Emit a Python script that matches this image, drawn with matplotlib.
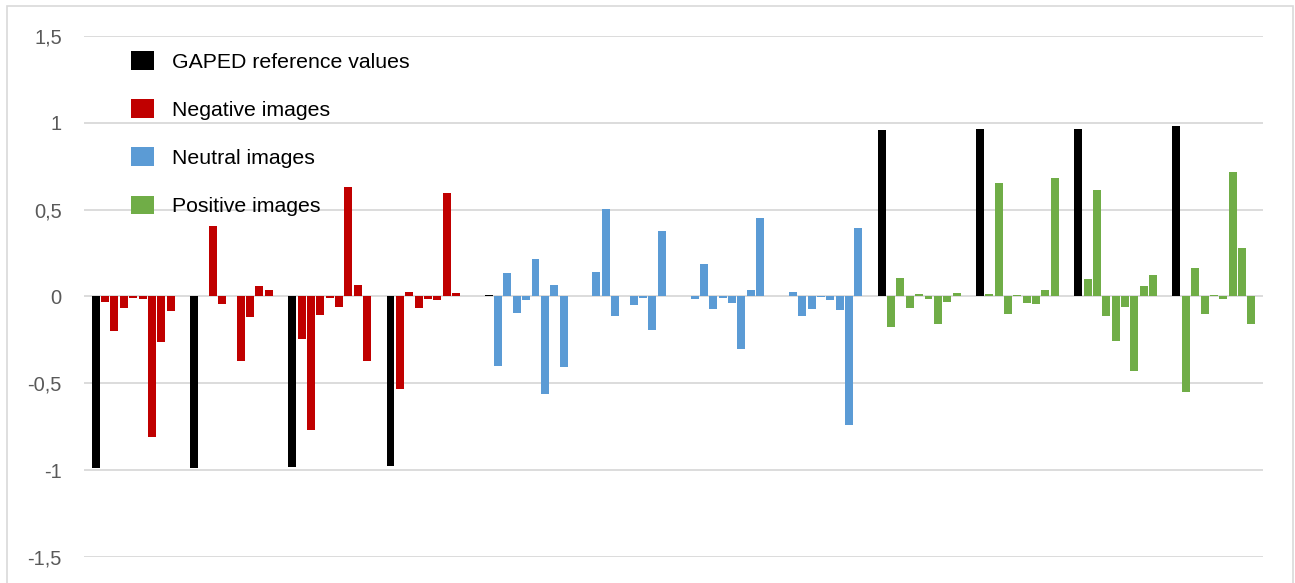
import numpy as np
import matplotlib.pyplot as plt
from matplotlib.patches import Patch, Rectangle

# GAPED reference value for each of the 12 images
gaped_ref = [-0.99, -0.99, -0.984, -0.975,
             0.006, 0.005, 0.005, 0.004,
             0.960, 0.967, 0.967, 0.979]

# 8 measured values per image
negative_vals = [
    [-0.029, -0.196, -0.069, -0.006, -0.012, -0.811, -0.261, -0.081],
    [0.005, 0.406, -0.044, 0.004, -0.369, -0.117, 0.060, 0.039],
    [-0.244, -0.767, -0.106, -0.008, -0.059, 0.633, 0.067, -0.373],
    [-0.533, 0.027, -0.067, -0.013, -0.019, 0.593, 0.021, 0.0],
]
neutral_vals = [
    [-0.400, 0.137, -0.094, -0.019, 0.218, -0.561, 0.067, -0.406],
    [0.142, 0.506, -0.111, 0.005, -0.048, -0.010, -0.192, 0.379],
    [-0.013, 0.188, -0.071, -0.006, -0.036, -0.302, 0.038, 0.454],
    [0.027, -0.111, -0.071, -0.004, -0.019, -0.077, -0.740, 0.396],
]
positive_vals = [
    [-0.173, 0.108, -0.069, 0.015, -0.017, -0.161, -0.029, 0.021],
    [0.015, 0.656, -0.098, 0.010, -0.035, -0.046, 0.038, 0.685],
    [0.102, 0.616, -0.110, -0.254, -0.058, -0.427, 0.062, 0.125],
    [-0.548, 0.165, -0.098, 0.010, -0.017, 0.714, 0.281, -0.161],
]

labels = ['GAPED reference values', 'Negative images', 'Neutral images', 'Positive images']
colors = ['#000000', '#C00000', '#5B9BD5', '#70AD47']

ytick_vals = [-1.5, -1, -0.5, 0, 0.5, 1, 1.5]
ytick_text = ['-1,5', '-1', '-0,5', '0', '0,5', '1', '1,5']

image_vals = negative_vals + neutral_vals + positive_vals
image_cols = [colors[1]] * 4 + [colors[2]] * 4 + [colors[3]] * 4

plt.rcParams['font.family'] = ['Liberation Sans', 'DejaVu Sans']

fig = plt.figure(figsize=(12.95, 5.83), dpi=100)
ax = fig.add_axes([0.0649, 0.0446, 0.9104, 0.8937])

n_series = 9
pitch = 0.0952
width = 0.081
x = np.arange(len(gaped_ref))

for j in range(n_series):
    pos = x + (j - (n_series - 1) / 2) * pitch
    if j == 0:
        ax.bar(pos, gaped_ref, width, color=colors[0], zorder=3)
    else:
        vals = [row[j - 1] for row in image_vals]
        ax.bar(pos, vals, width, color=image_cols, zorder=3)

ax.set_xlim(-0.5, len(gaped_ref) - 0.5)
ax.set_ylim(-1.5, 1.5)
ax.set_yticks(ytick_vals)
ax.set_yticklabels(ytick_text)
ax.set_xticks([])
ax.tick_params(axis='y', length=0, pad=16, labelsize=14.5, labelcolor='#595959')
ax.grid(axis='y', color='#D9D9D9', linewidth=1.3, zorder=0)
for s in ax.spines.values():
    s.set_visible(False)

handles = [Patch(facecolor=c) for c in colors]
ax.legend(handles, labels, loc='upper left', bbox_to_anchor=(131 / 1295, 1 - 51 / 583),
          bbox_transform=fig.transFigure, frameon=False, fontsize=15.3,
          handlelength=1.07, handleheight=0.97, handletextpad=0.85,
          labelspacing=1.3, borderpad=0, borderaxespad=0)

# outer chart border
fig.patches.append(Rectangle((7 / 1295, -0.05), 1286 / 1295, 1.05 - 6 / 583,
                             transform=fig.transFigure, fill=False,
                             edgecolor='#D9D9D9', linewidth=1.2))

fig.savefig('out.png', dpi=100)
